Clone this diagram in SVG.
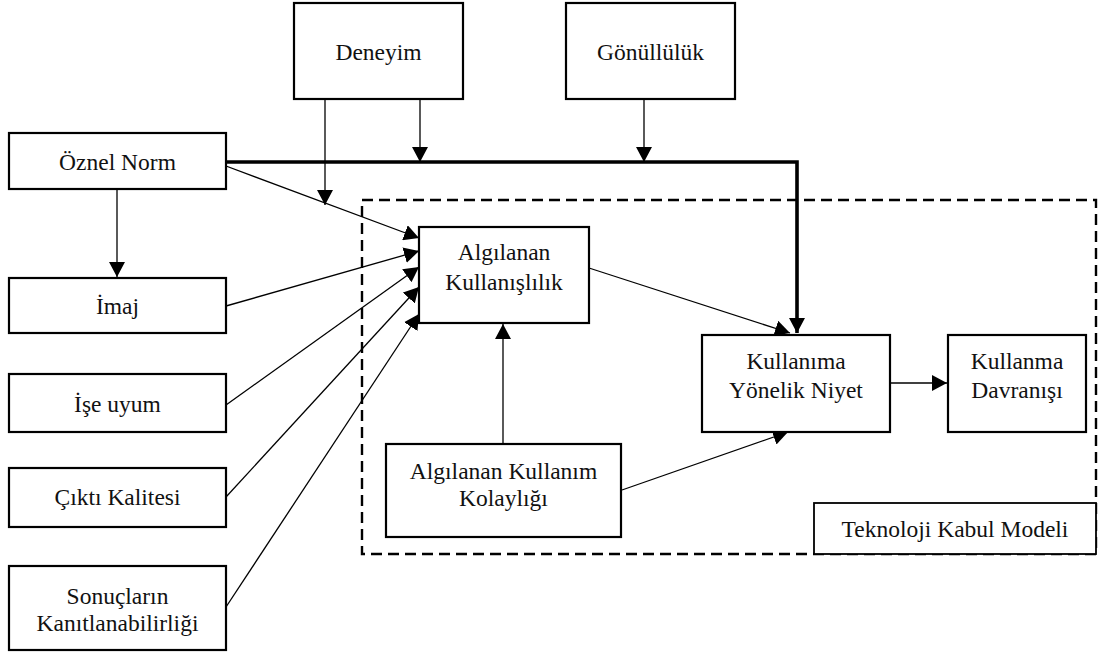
<svg xmlns="http://www.w3.org/2000/svg" width="1099" height="657" viewBox="0 0 1099 657">
  <style>
    .box { fill: #fff; stroke: #000; stroke-width: 2.2; }
    .lbl { font-family: "Liberation Serif", "Times New Roman", serif; font-size: 23.5px; fill: #111; text-anchor: middle; }
    .thin { fill: none; stroke: #000; stroke-width: 1.3; }
    .thick { fill: none; stroke: #000; stroke-width: 3.6; }
    .dash { fill: none; stroke: #000; stroke-width: 2.4; stroke-dasharray: 11 6; }
  </style>
  <defs>
    <marker id="arr" markerUnits="userSpaceOnUse" markerWidth="16" markerHeight="16" viewBox="0 0 16 16" refX="15" refY="8" orient="auto">
      <path d="M0,0 L15,8 L0,16 Z" fill="#000"/>
    </marker>
  </defs>

  <!-- Technology Acceptance Model frame -->
  <rect class="dash" x="362" y="200" width="734" height="354"/>

  <!-- connectors -->
  <g id="connectors">
    <path class="thick" d="M226,162 H797 V333" marker-end="url(#arr)"/>
    <line class="thin" x1="325" y1="99" x2="325" y2="205" marker-end="url(#arr)"/>
    <line class="thin" x1="420" y1="99" x2="420" y2="162" marker-end="url(#arr)"/>
    <line class="thin" x1="644" y1="99" x2="644" y2="162" marker-end="url(#arr)"/>
    <line class="thin" x1="117" y1="189" x2="117" y2="277" marker-end="url(#arr)"/>
    <line class="thin" x1="226" y1="166" x2="419" y2="238" marker-end="url(#arr)"/>
    <line class="thin" x1="226" y1="306" x2="419" y2="251" marker-end="url(#arr)"/>
    <line class="thin" x1="226" y1="405" x2="419" y2="267" marker-end="url(#arr)"/>
    <line class="thin" x1="226" y1="497" x2="419" y2="287" marker-end="url(#arr)"/>
    <line class="thin" x1="226" y1="607" x2="419" y2="314" marker-end="url(#arr)"/>
    <line class="thin" x1="589" y1="268" x2="790" y2="333" marker-end="url(#arr)"/>
    <line class="thin" x1="503" y1="444" x2="503" y2="324" marker-end="url(#arr)"/>
    <line class="thin" x1="622" y1="490" x2="788" y2="432" marker-end="url(#arr)"/>
    <line class="thin" x1="890" y1="383" x2="947" y2="383" marker-end="url(#arr)"/>
  </g>

  <g id="deneyim">
    <rect class="box" x="294" y="3" width="169" height="96"/>
    <text class="lbl" x="378.5" y="60">Deneyim</text>
  </g>
  <g id="gonulluluk">
    <rect class="box" x="566" y="3" width="169" height="96"/>
    <text class="lbl" x="650.5" y="60">Gönüllülük</text>
  </g>
  <g id="oznel-norm">
    <rect class="box" x="9" y="133" width="217" height="56"/>
    <text class="lbl" x="117.5" y="170">Öznel Norm</text>
  </g>
  <g id="imaj">
    <rect class="box" x="9" y="278" width="217" height="55"/>
    <text class="lbl" x="117.5" y="314">İmaj</text>
  </g>
  <g id="ise-uyum">
    <rect class="box" x="9" y="374" width="217" height="58"/>
    <text class="lbl" x="117.5" y="412">İşe uyum</text>
  </g>
  <g id="cikti-kalitesi">
    <rect class="box" x="9" y="468" width="217" height="59"/>
    <text class="lbl" x="117.5" y="505">Çıktı Kalitesi</text>
  </g>
  <g id="sonuclarin">
    <rect class="box" x="9" y="566" width="217" height="84"/>
    <text class="lbl" x="117.5" y="604">Sonuçların</text>
    <text class="lbl" x="117.5" y="631">Kanıtlanabilirliği</text>
  </g>
  <g id="algilanan-kullanislilik">
    <rect class="box" x="419" y="227" width="170" height="96"/>
    <text class="lbl" x="504" y="260">Algılanan</text>
    <text class="lbl" x="504" y="290">Kullanışlılık</text>
  </g>
  <g id="kullanim-kolayligi">
    <rect class="box" x="386" y="444" width="235" height="93"/>
    <text class="lbl" x="503.5" y="479">Algılanan Kullanım</text>
    <text class="lbl" x="503.5" y="506">Kolaylığı</text>
  </g>
  <g id="kullanima-yonelik-niyet">
    <rect class="box" x="702" y="335" width="188" height="97"/>
    <text class="lbl" x="796" y="369">Kullanıma</text>
    <text class="lbl" x="796" y="398">Yönelik Niyet</text>
  </g>
  <g id="kullanma-davranisi">
    <rect class="box" x="948" y="335" width="138" height="97"/>
    <text class="lbl" x="1017" y="369">Kullanma</text>
    <text class="lbl" x="1017" y="398">Davranışı</text>
  </g>
  <g id="tkm-label">
    <rect class="box" x="814" y="503" width="282" height="51" style="stroke-width:1.8"/>
    <text class="lbl" x="955" y="537">Teknoloji Kabul Modeli</text>
  </g>
</svg>
